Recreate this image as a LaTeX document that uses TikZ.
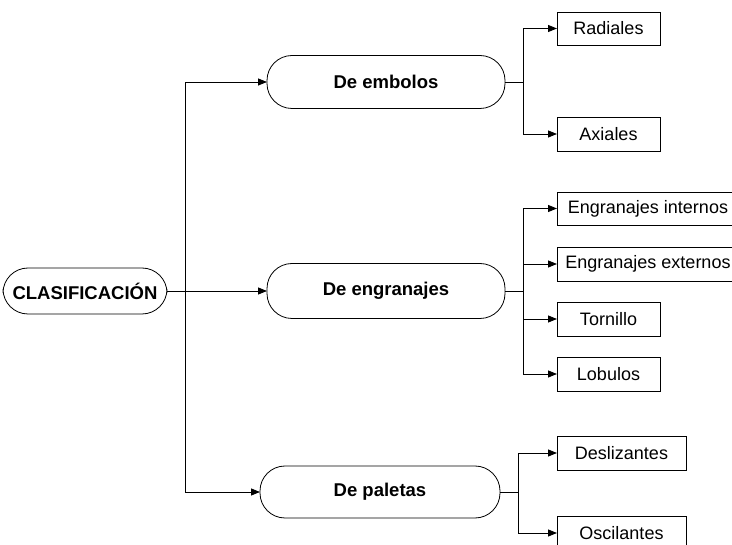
\documentclass[tikz,border=0pt]{standalone}
\usepackage{fontspec}
\setmainfont{Liberation Sans}
\usetikzlibrary{arrows.meta}
\begin{document}
\begin{tikzpicture}[x=1pt,y=-1pt,
  every node/.style={inner sep=0pt, outer sep=0pt},
  oval/.style={draw, line width=0.8pt, rounded corners=25pt, font=\fontsize{18.5}{21}\selectfont\bfseries},
  leaf/.style={draw, line width=0.8pt, font=\fontsize{18}{21}\selectfont},
  link/.style={line width=0.8pt},
  arr/.style={link, -{Triangle[length=9pt,width=7pt]}}]
\useasboundingbox (0,0) rectangle (732,545);

% main ovals
\node[oval, minimum width=164pt, minimum height=46pt] (clas) at (85,291) {CLASIFICACIÓN};
\node[oval, minimum width=238pt, minimum height=53pt] (emb) at (386,82) {De embolos};
\node[oval, minimum width=238pt, minimum height=55pt] (eng) at (386,291) {De engranajes};
\node[oval, minimum width=240pt, minimum height=52pt] (pal) at (380,492) {De paletas};

% leaves
\node[leaf, minimum width=103pt, minimum height=33pt] (rad) at (608.5,28.5) {Radiales};
\node[leaf, minimum width=103pt, minimum height=34pt] (axi) at (608.5,134) {Axiales};
\node[leaf, anchor=west, inner xsep=6pt, minimum width=182pt, minimum height=33pt] (ein) at (557,208.5) {Engranajes internos};
\node[leaf, anchor=west, inner xsep=6pt, minimum width=182pt, minimum height=34pt] (eex) at (557,264) {Engranajes externos};
\node[leaf, minimum width=103pt, minimum height=34pt] (tor) at (608.5,319) {Tornillo};
\node[leaf, minimum width=103pt, minimum height=34pt] (lob) at (608.5,374) {Lobulos};
\node[leaf, minimum width=129pt, minimum height=34pt] (des) at (621.5,453) {Deslizantes};
\node[leaf, minimum width=129pt, minimum height=34pt] (osc) at (621.5,533) {Oscilantes};

% junction points
\coordinate (t0) at (185,291);
\coordinate (j1) at (523,82);
\coordinate (j2) at (523,291);
\coordinate (j3) at (518,492);

% connectors
\draw[link] (clas.east) -- (t0);
\draw[arr] (t0) |- (emb.west);
\draw[arr] (t0) -- (eng.west);
\draw[arr] (t0) |- (pal.west);

\draw[link] (emb.east) -- (j1);
\draw[arr] (j1) |- (rad.west);
\draw[arr] (j1) |- (axi.west);

\draw[link] (eng.east) -- (j2);
\draw[arr] (j2) |- (ein.west);
\draw[arr] (j2) |- (eex.west);
\draw[arr] (j2) |- (tor.west);
\draw[arr] (j2) |- (lob.west);

\draw[link] (pal.east) -- (j3);
\draw[arr] (j3) |- (des.west);
\draw[arr] (j3) |- (osc.west);
\end{tikzpicture}
\end{document}
